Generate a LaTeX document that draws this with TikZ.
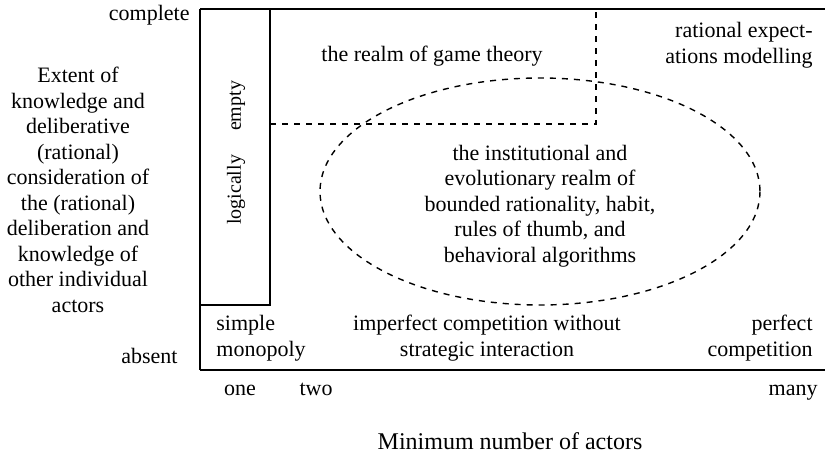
\documentclass[tikz,border=0pt]{standalone}
\usepackage{fontspec}
\setmainfont{Liberation Serif}
\begin{document}
\begin{tikzpicture}[x=0.5pt, y=-0.5pt, font=\fontsize{11}{12.75}\selectfont,
    txt/.style={inner sep=0pt, align=center}]

    % corner points of the frame
    \useasboundingbox (0,0) rectangle (825,453);
    \coordinate (TopLeft) at (200,9);
    \coordinate (TopRight) at (825,9);
    \coordinate (BottomLeft) at (200,370);
    \coordinate (BottomRight) at (825,370);

    % frame
    \draw[line width=1pt] (TopLeft) -- (TopRight);
    \draw[line width=0.8pt] (BottomLeft) -- (BottomRight);
    \draw[line width=0.8pt] (TopLeft) -- (BottomLeft);

    % logically empty box
    \draw[line width=0.7pt] (270,9) -- (270,305) -- (200,305);
    \node[txt, rotate=90, font=\fontsize{10}{12}\selectfont] (empty) at (236,153)
        {logically\hspace{12pt}empty};

    % realm of game theory (dashed)
    \draw[dashed, line width=0.7pt] (270,124) -- (596,124) -- (596,9);
    \node[txt] (game) at (432,56) {the realm of game theory};

    % bounded rationality ellipse
    \draw[dashed, line width=0.7pt] (540,191.5) ellipse [x radius=220, y radius=113.5];
    \node[txt] (bounded) at (540,206) {the institutional and\\ evolutionary realm of\\
        bounded rationality, habit,\\ rules of thumb, and\\ behavioral algorithms};

    % labels inside the frame
    \node[txt, align=right, anchor=east] (rational) at (813,45) {rational expect-\\ations modelling};
    \node[txt, align=left, anchor=west] (monopoly) at (216,338) {simple\\monopoly};
    \node[txt] (imperfect) at (487,338) {imperfect competition without\\strategic interaction};
    \node[txt, align=right, anchor=east] (perfect) at (813,338) {perfect\\competition};

    % vertical axis
    \node[txt, anchor=east] (complete) at (190,15) {complete};
    \node[txt, anchor=east] (absent) at (178,356) {absent};
    \node[txt] (extent) at (78,190) {Extent of\\ knowledge and\\ deliberative\\ (rational)\\
        consideration of\\ the (rational)\\ deliberation and\\ knowledge of\\ other individual\\ actors};

    % horizontal axis
    \node[txt, anchor=base] (one) at (240,396) {one};
    \node[txt, anchor=base] (two) at (316,396) {two};
    \node[txt, anchor=base east] (many) at (818,396) {many};
    \node[txt, font=\fontsize{12}{14}\selectfont] (actors) at (510,441) {Minimum number of actors};

\end{tikzpicture}
\end{document}
